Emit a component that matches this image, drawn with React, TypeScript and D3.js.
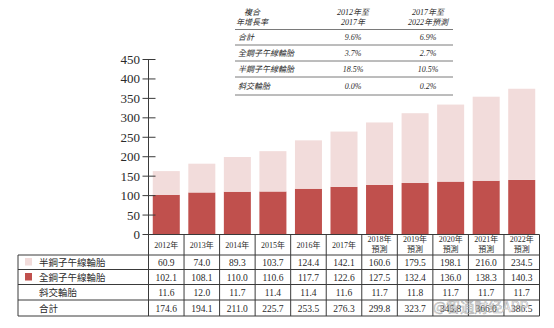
import React from "react";
import * as d3 from "d3";

const years = ["2012年", "2013年", "2014年", "2015年", "2016年", "2017年", "2018年", "2019年", "2020年", "2021年", "2022年"];
const forecast = [false, false, false, false, false, false, true, true, true, true, true];
const semiSteel = [60.9, 74.0, 89.3, 103.7, 124.4, 142.1, 160.6, 179.5, 198.1, 216.0, 234.5];
const allSteel = [102.1, 108.1, 110.0, 110.6, 117.7, 122.6, 127.5, 132.4, 136.0, 138.3, 140.3];
const bias = [11.6, 12.0, 11.7, 11.4, 11.4, 11.6, 11.7, 11.8, 11.7, 11.7, 11.7];
const totals = [174.6, 194.1, 211.0, 225.7, 253.5, 276.3, 299.8, 323.7, 345.8, 366.0, 386.5];
const yTicks = [0, 50, 100, 150, 200, 250, 300, 350, 400, 450];

const rowLabels = ["半鋼子午線輪胎", "全鋼子午線輪胎", "斜交輪胎", "合計"];

const cagrHeader = [["複合", "年增長率"], ["2012年至", "2017年"], ["2017年至", "2022年預測"]];
const cagrRows = ["合計", "全鋼子午線輪胎", "半鋼子午線輪胎", "斜交輪胎"];
const cagr1217 = ["9.6%", "3.7%", "18.5%", "0.0%"];
const cagr1722 = ["6.9%", "2.7%", "10.5%", "0.2%"];

const PINK = "#f2dcdb";
const RED = "#c0504d";
const INK = "#2a2a2a";
const LINE = "#3a3a3a";
const SERIF = "'Liberation Serif', 'Noto Sans CJK TC', serif";

export default function App() {
  const x = d3.scaleBand<string>().domain(years).range([148.5, 539.5]).paddingInner(0.24).paddingOuter(0.12);
  const y = d3.scaleLinear().domain([0, 450]).range([234.5, 59.5]);
  const step = x.step();
  const x0 = 148.5;
  const x1 = 539.5;
  const yBase = y(0);
  const rowLines = [255, 269.5, 284.5, 300, 316];
  const rowCenters = [262.5, 277.5, 292.5, 308.5];
  const rowData = [semiSteel, allSteel, bias, totals];
  const fmt = d3.format(".1f");

  const stack = d3.stack<number>().keys(["all", "semi"]).value((i, k) => (k === "all" ? allSteel[i] : semiSteel[i]));
  const series = stack(d3.range(years.length));
  const colors = [RED, PINK];

  // top CAGR table
  const tLeft = 235;
  const tRight = 453;
  const tLines = [29.5, 45, 61, 77, 95];
  const tCenters = [37, 53, 69, 86];
  const tCols = [238, 353, 428];

  return (
    <svg width={554} height={328} style={{ position: "absolute", left: 0, top: 0, background: "#fff" }}>
      {/* bars */}
      {series.map((s, si) =>
        s.map((d, i) => (
          <rect
            key={`${si}-${i}`}
            x={x(years[i])}
            y={y(d[1])}
            width={x.bandwidth()}
            height={y(d[0]) - y(d[1])}
            fill={colors[si]}
          />
        ))
      )}

      {/* y axis */}
      <line x1={x0} x2={x0} y1={y(450)} y2={316} stroke={LINE} strokeWidth={1} />
      {yTicks.map((t) => (
        <g key={t}>
          <line x1={x0 - 6} x2={x0 + 7} y1={y(t)} y2={y(t)} stroke={LINE} strokeWidth={1} />
          <text x={140} y={y(t)} dy="0.35em" textAnchor="end" fontFamily={SERIF} fontSize={13} fill={INK}>
            {t}
          </text>
        </g>
      ))}

      {/* baseline */}
      <line x1={x0} x2={x1} y1={yBase} y2={yBase} stroke={LINE} strokeWidth={1} />

      {/* data table grid */}
      {rowLines.map((ly, i) => (
        <line key={i} x1={18} x2={x1} y1={ly} y2={ly} stroke={LINE} strokeWidth={1} />
      ))}
      <line x1={18} x2={18} y1={255} y2={316} stroke={LINE} strokeWidth={1} />
      {years.map((_, i) => (
        <line key={i} x1={x0 + step * (i + 1)} x2={x0 + step * (i + 1)} y1={yBase} y2={316} stroke={LINE} strokeWidth={1} />
      ))}

      {/* year header */}
      {years.map((yr, i) => {
        const cx = (x(yr) as number) + x.bandwidth() / 2;
        return forecast[i] ? (
          <g key={yr}>
            <text x={cx} y={239} dy="0.35em" textAnchor="middle" fontFamily={SERIF} fontSize={8} fill={INK}>{yr}</text>
            <text x={cx} y={249.5} dy="0.35em" textAnchor="middle" fontFamily={SERIF} fontSize={8} fill={INK}>預測</text>
          </g>
        ) : (
          <text key={yr} x={cx} y={245} dy="0.35em" textAnchor="middle" fontFamily={SERIF} fontSize={8} fill={INK}>{yr}</text>
        );
      })}

      {/* data rows */}
      {rowData.map((arr, r) =>
        arr.map((v, i) => (
          <text
            key={`${r}-${i}`}
            x={(x(years[i]) as number) + x.bandwidth() / 2}
            y={rowCenters[r]}
            dy="0.35em"
            textAnchor="middle"
            fontFamily={SERIF}
            fontSize={9.5}
            fill={INK}
          >
            {fmt(v)}
          </text>
        ))
      )}

      {/* legend column */}
      <rect x={25} y={258} width={7} height={7.5} fill={PINK} />
      <rect x={25} y={273} width={7} height={7.5} fill={RED} />
      {rowLabels.map((l, r) => (
        <text key={l} x={39} y={rowCenters[r]} dy="0.35em" fontFamily="'Noto Sans CJK TC', sans-serif" fontSize={9.5} fill={INK}>
          {l}
        </text>
      ))}

      {/* CAGR table */}
      {tLines.map((ly, i) => (
        <line key={i} x1={tLeft} x2={tRight} y1={ly} y2={ly} stroke="#7a7a7a" strokeWidth={i === 0 ? 1.2 : 1} />
      ))}
      {cagrHeader.map((h, c) => (
        <g key={c}>
          {h.map((line, li) => (
            <text
              key={li}
              x={c === 0 ? 252 : tCols[c]}
              y={12.5 + li * 9.5}
              dy="0.35em"
              textAnchor="middle"
              fontFamily={SERIF}
              fontStyle="italic"
              fontSize={8}
              fill={INK}
            >
              {line}
            </text>
          ))}
        </g>
      ))}
      {cagrRows.map((l, r) => (
        <g key={l}>
          <text x={tCols[0]} y={tCenters[r]} dy="0.35em" fontFamily={SERIF} fontStyle="italic" fontSize={8} fill={INK}>{l}</text>
          <text x={tCols[1]} y={tCenters[r]} dy="0.35em" textAnchor="middle" fontFamily={SERIF} fontStyle="italic" fontSize={8} fill={INK}>{cagr1217[r]}</text>
          <text x={tCols[2]} y={tCenters[r]} dy="0.35em" textAnchor="middle" fontFamily={SERIF} fontStyle="italic" fontSize={8} fill={INK}>{cagr1722[r]}</text>
        </g>
      ))}

      {/* watermark */}
      <text x={433} y={312} fontFamily="'Noto Sans CJK SC', sans-serif" fontSize={14} fill="rgba(255,255,255,0.55)" stroke="rgba(120,120,120,0.6)" strokeWidth={0.6}>
        @智通财经APP
      </text>
    </svg>
  );
}
